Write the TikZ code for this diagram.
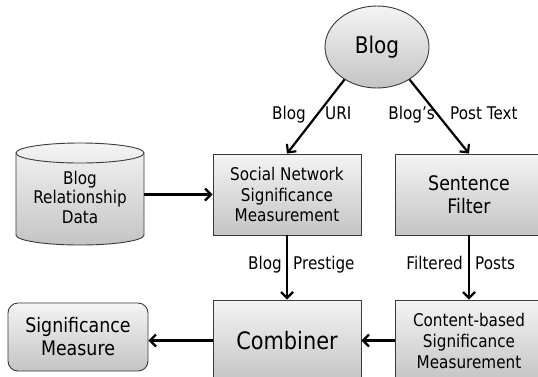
\documentclass[tikz,border=0pt]{standalone}
\usepackage{fontspec}
\setmainfont{DejaVu Sans}[FakeStretch=0.87]
\usetikzlibrary{shapes.geometric,arrows.meta}
\definecolor{boxtop}{HTML}{F4F4F4}
\definecolor{boxbot}{HTML}{C4C4C4}
\definecolor{boxline}{HTML}{3A3A3A}
\begin{document}
\begin{tikzpicture}[x=1pt,y=-1pt,
  shade/.style={draw=boxline, line width=0.9pt, top color=boxtop, bottom color=boxbot},
  box/.style={shade, minimum width=148pt, minimum height=81pt, inner sep=0pt, align=center, font=\fontsize{17.5}{20.5}\selectfont},
  lbl/.style={inner sep=0pt, font=\fontsize{17.5}{20.5}\selectfont},
  arr/.style={line width=2.2pt, -{Straight Barb[length=6pt,width=12pt]}}
]
\useasboundingbox (0,0) rectangle (538,376);
\clip (0,0) rectangle (538,376);
% cylinder
\path[shade] (16,153) -- (16,235) arc[start angle=180,end angle=360,x radius=64pt,y radius=10pt]
  -- (144,153) arc[start angle=0,end angle=180,x radius=64pt,y radius=10pt] -- cycle;
\draw[draw=boxline, line width=0.9pt] (16,153) arc[start angle=180,end angle=360,x radius=64pt,y radius=10pt];
\node[align=center, inner sep=0pt, font=\fontsize{17.5}{19.5}\selectfont] (cyl) at (80,197) {Blog\\Relationship\\Data};
\coordinate (cylr) at (144,194.5);
% nodes
\node[shade, ellipse, minimum width=104pt, minimum height=82pt, inner sep=0pt, font=\fontsize{23}{26}\selectfont] (blog) at (377,47) {Blog};
\node[box] (social) at (287,194.5) {Social Network\\Significance\\Measurement};
\node[box, font=\fontsize{20}{23}\selectfont] (sentence) at (469,194.5) {Sentence\\Filter};
\node[box, font=\fontsize{24}{27}\selectfont] (combiner) at (287,340.5) {Combiner};
\node[box, font=\fontsize{17.5}{21}\selectfont] (content) at (469,340.5) {Content-based\\Significance\\Measurement};
\node[shade, rounded corners=10pt, minimum width=140pt, minimum height=68pt, inner sep=0pt, align=center, font=\fontsize{20}{23}\selectfont] (sigm) at (78,337) {Significance\\Measure};
% connectors
\draw[arr] (blog.225) -- (social.north);
\draw[arr] (blog.315) -- (sentence.north);
\draw[arr] (cylr) -- (social.west);
\draw[arr] (social.south) -- (combiner.north);
\draw[arr] (sentence.south) -- (content.north);
\draw[arr] (content.west) -- (combiner.east);
\draw[arr] (combiner.west) -- (combiner.west -| sigm.east);
% labels
\node[lbl, anchor=base east] (l1a) at (306,119) {Blog};
\node[lbl, anchor=base west] (l1b) at (325,119) {URI};
\node[lbl, anchor=base east] (l2a) at (435,119) {Blog’s};
\node[lbl, anchor=base west] (l2b) at (450,119) {Post Text};
\node[lbl, anchor=base east] (l3a) at (282,269) {Blog};
\node[lbl, anchor=base west] (l3b) at (293,269) {Prestige};
\node[lbl, anchor=base east] (l4a) at (463,269) {Filtered};
\node[lbl, anchor=base west] (l4b) at (475,269) {Posts};
\end{tikzpicture}
\end{document}
